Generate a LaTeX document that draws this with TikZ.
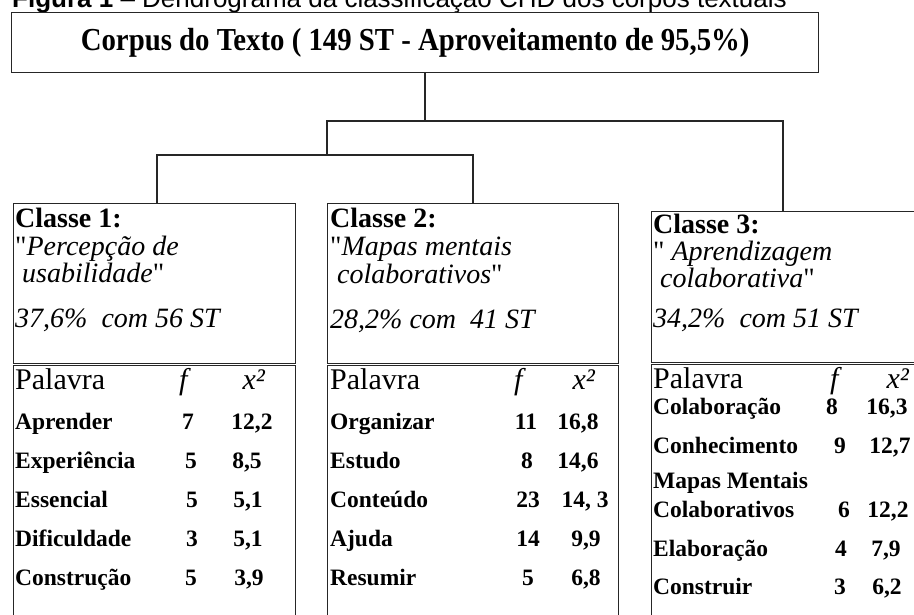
\documentclass[tikz,border=0pt]{standalone}
\usepackage{fontspec}
\setmainfont{Liberation Serif}
\newfontfamily\capfont{Liberation Sans}
\newfontfamily\semmapa{Liberation Serif}
\usetikzlibrary{positioning}
\newcommand{\aspas}{{\semmapa\upshape\symbol{34}}}

\begin{document}
\begin{tikzpicture}[x=1pt, y=-1pt,
    titlebox/.style={rectangle, draw=black!85, line width=1.4pt, anchor=north west,
                     minimum width=807pt, minimum height=60pt, inner sep=0pt,
                     font=\fontsize{32}{32}\selectfont\bfseries},
    classbox/.style={rectangle, draw=black!85, line width=1.2pt, anchor=north west,
                     minimum width=282pt, inner sep=0pt},
    link/.style={draw=black!85, line width=1.2pt},
    hdline/.style={anchor=base west, inner sep=0pt, font=\fontsize{28}{28}\selectfont},
    colhead/.style={anchor=base, inner sep=0pt, font=\fontsize{30}{30}\selectfont},
    cellword/.style={anchor=base west, inner sep=0pt, font=\fontsize{23.5}{24}\selectfont\bfseries},
    cellnum/.style={cellword, anchor=base}
]
    \useasboundingbox (0,0) rectangle (914,614);
    \clip (0,0) rectangle (914,614);

    % caption (cut by the page edge)
    \node[anchor=base west, inner sep=0pt, font=\capfont\fontsize{26}{26}\selectfont] (caption) at (12,7)
        {\textbf{Figura 1} – Dendrograma da classificação CHD dos corpos textuais};

    % corpus
    \node[titlebox] (corpus) at (11,12) {\scalebox{0.9}[1]{Corpus do Texto ( 149 ST - Aproveitamento de 95,5\%)}};

    % class boxes
    \node[classbox, minimum height=160pt] (classe1) at (13,203) {};
    \node[classbox, minimum height=286pt] (palavras1) at (13,364.5) {};
    \node[classbox, minimum width=291pt, minimum height=160pt] (classe2) at (327,203) {};
    \node[classbox, minimum width=291pt, minimum height=286pt] (palavras2) at (327,364.5) {};
    \node[classbox, minimum width=320pt, minimum height=151pt] (classe3) at (651,211) {};
    \node[classbox, minimum width=320pt, minimum height=286pt] (palavras3) at (651,363.5) {};

    % dendrogram
    \coordinate (ramo123) at (425,121);
    \coordinate (ramo3) at (783,121);
    \coordinate (ramo12) at (327,155);
    \coordinate (ramo1) at (157,155);
    \coordinate (ramo2) at (473,155);
    \draw[link] (corpus.south -| ramo123) -- (ramo123);
    \draw[link] (ramo12) -- (ramo12 |- ramo3) -- (ramo3) -- (ramo3 |- classe3.north);
    \draw[link] (ramo1 |- classe1.north) -- (ramo1) -- (ramo2) -- (ramo2 |- classe2.north);

    % Classe 1
    \node[hdline] (c1t) at (15,227) {\textbf{Classe 1:}};
    \node[hdline] (c1a) at (15,255) {\aspas\textit{Percepção de}};
    \node[hdline] (c1b) at (15,282) {\hspace*{.25em}\textit{usabilidade}\aspas};
    \node[hdline] (c1p) at (15,327) {\textit{37,6\%~ com 56 ST}};
    \node[colhead, anchor=base west] (p1) at (15,389) {Palavra};
    \node[colhead] (f1) at (185,389) {\textit{f}};
    \node[colhead] (x1) at (254,389) {\textit{x²}};
    \foreach \pal/\fq/\fx/\qui/\qx [count=\i from 0] in {Aprender/7/188/12{,}2/252,
        Experiência/5/191/8{,}5/247, Essencial/5/192/5{,}1/248,
        Dificuldade/3/192/5{,}1/248, Construção/5/191/3{,}9/249}
    {
        \node[cellword] (w1-\i) at (15,429+39*\i) {\pal};
        \node[cellnum] (f1-\i) at (\fx,429+39*\i) {\fq};
        \node[cellnum] (x1-\i) at (\qx,429+39*\i) {\qui};
    }

    % Classe 2
    \node[hdline] (c2t) at (330,227) {\textbf{Classe 2:}};
    \node[hdline] (c2a) at (330,255) {\aspas\textit{Mapas mentais}};
    \node[hdline] (c2b) at (330,283) {\hspace*{.25em}\textit{colaborativos}\aspas};
    \node[hdline] (c2p) at (330,328) {\textit{28,2\% com~ 41 ST}};
    \node[colhead, anchor=base west] (p2) at (330,389) {Palavra};
    \node[colhead] (f2) at (520,389) {\textit{f}};
    \node[colhead] (x2) at (584,389) {\textit{x²}};
    \foreach \pal/\fq/\fx/\qui/\qx [count=\i from 0] in {Organizar/11/526/16{,}8/578,
        Estudo/8/527/14{,}6/578, Conteúdo/23/528/14{,} 3/585,
        Ajuda/14/528/9{,}9/586, Resumir/5/528/6{,}8/586}
    {
        \node[cellword] (w2-\i) at (330,429+39*\i) {\pal};
        \node[cellnum] (f2-\i) at (\fx,429+39*\i) {\fq};
        \node[cellnum] (x2-\i) at (\qx,429+39*\i) {\qui};
    }

    % Classe 3
    \node[hdline] (c3t) at (653,233) {\textbf{Classe 3:}};
    \node[hdline] (c3a) at (653,260) {\aspas\ \textit{Aprendizagem}};
    \node[hdline] (c3b) at (653,287) {\hspace*{.25em}\textit{colaborativa}\aspas};
    \node[hdline] (c3p) at (653,327) {\textit{34,2\%~ com 51 ST}};
    \node[colhead, anchor=base west] (p3) at (653,388) {Palavra};
    \node[colhead] (f3) at (836,388) {\textit{f}};
    \node[colhead] (x3) at (898,388) {\textit{x²}};
    \node[cellword] (w3-m) at (653,488) {Mapas Mentais};
    \foreach \pal/\fq/\fx/\qui/\qx/\yy [count=\i from 0] in {Colaboração/8/832/16{,}3/887/414,
        Conhecimento/9/840/12{,}7/890/453, Colaborativos/6/844/12{,}2/888/517,
        Elaboração/4/841/7{,}9/886/556, Construir/3/840/6{,}2/887/594}
    {
        \node[cellword] (w3-\i) at (653,\yy) {\pal};
        \node[cellnum] (f3-\i) at (\fx,\yy) {\fq};
        \node[cellnum] (x3-\i) at (\qx,\yy) {\qui};
    }
\end{tikzpicture}
\end{document}
